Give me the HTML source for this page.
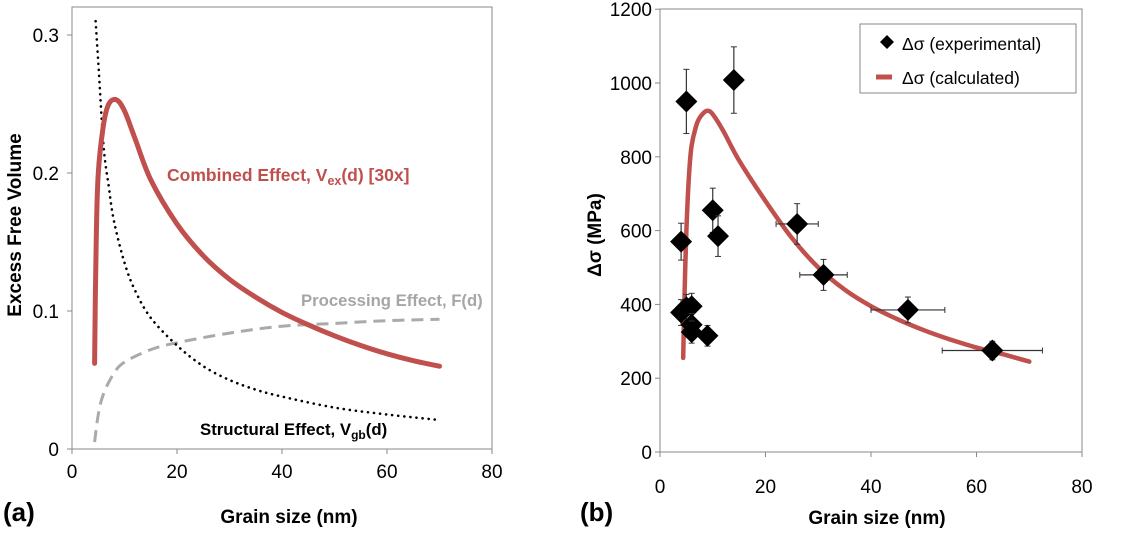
<!DOCTYPE html>
<html><head><meta charset="utf-8"><style>
body{margin:0;background:#fff;width:1129px;height:531px;overflow:hidden;font-family:"Liberation Sans",sans-serif}
svg text{font-family:"Liberation Sans",sans-serif}
</style></head><body>
<svg id="s" width="1129" height="531" xmlns="http://www.w3.org/2000/svg"></svg>
<script>
// Chart A data
const aTicksX=[0,20,40,60,80];
const aTicksY=[0,0.1,0.2,0.3];
const combX=[4.3,4.6,5,6,7,8.5,10,12,15,20,25,30,35,40,45,50,55,60,65,70];
const combY=[0.062,0.15,0.2,0.235,0.25,0.253,0.245,0.225,0.195,0.163,0.14,0.123,0.11,0.099,0.09,0.082,0.075,0.069,0.064,0.06];
const structX=[4.5,5,6,7,8,10,12,15,20,25,30,35,40,50,60,70];
const structY=[0.31,0.28,0.22,0.19,0.165,0.135,0.115,0.095,0.075,0.06,0.05,0.043,0.038,0.03,0.025,0.021];
const procX=[4.3,5,6,8,10,15,20,30,40,50,60,70];
const procY=[0.005,0.025,0.04,0.055,0.063,0.072,0.077,0.084,0.089,0.091,0.093,0.094];
// Chart B data
const bTicksX=[0,20,40,60,80];
const bTicksY=[0,200,400,600,800,1000,1200];
const expX=[5,14,4,10,11,26,31,47,63,4,5,6,6,6,9];
const expY=[950,1008,570,655,585,618,480,385,275,378,392,395,345,325,315];
const expYErr=[87,90,50,60,55,55,42,35,25,35,35,35,30,30,28];
const expXErr=[0,1.5,0,0,0,4,4.5,7,9.5,0,0,0,0,0,0];
const calcX=[4.4,4.6,5,5.5,6,7,8,9,10,12,15,20,25,30,35,40,45,50,55,60,65,70];
const calcY=[255,400,600,750,830,890,915,925,915,870,790,680,580,500,440,395,360,330,305,283,265,245];

const S=document.getElementById('s');const NS='http://www.w3.org/2000/svg';
function el(t,a,txt){const e=document.createElementNS(NS,t);for(const k in a)e.setAttribute(k,a[k]);if(txt!==undefined)e.textContent=txt;S.appendChild(e);return e;}
const ax=v=>72+v*5.25, ay=v=>449-v*1380;
const bx=v=>660+v*5.275, by=v=>452-v*0.369;

function frame(x0,x1,y0,y1,name){
  let r=el('rect',{x:x0,y:y0,width:x1-x0,height:y1-y0,fill:'none',stroke:'#888','stroke-width':1});
  
}
frame(72,492,7,449,'plot-area-a');
frame(660,1082,9,452,'plot-area-b');
aTicksX.forEach(v=>{el('line',{x1:ax(v),x2:ax(v),y1:449,y2:454,stroke:'#888'});
 const t=el('text',{x:ax(v),y:478,'text-anchor':'middle','font-size':19},v);});
aTicksY.forEach(v=>{el('line',{x1:67,x2:72,y1:ay(v),y2:ay(v),stroke:'#888'});
 const t=el('text',{x:59,y:ay(v)+7,'text-anchor':'end','font-size':19},String(v));});
bTicksX.forEach(v=>{el('line',{x1:bx(v),x2:bx(v),y1:452,y2:457,stroke:'#888'});
 const t=el('text',{x:bx(v),y:493,'text-anchor':'middle','font-size':19},v);});
bTicksY.forEach(v=>{el('line',{x1:655,x2:660,y1:by(v),y2:by(v),stroke:'#888'});
 const t=el('text',{x:652,y:by(v)+7,'text-anchor':'end','font-size':19},v);});

function path(xs,ys,fx,fy){
  const P=xs.map((x,i)=>[fx(x),fy(ys[i])]);
  let d='M'+P[0][0].toFixed(1)+','+P[0][1].toFixed(1);
  for(let i=0;i<P.length-1;i++){
    const p0=P[i-1]||P[i],p1=P[i],p2=P[i+1],p3=P[i+2]||P[i+1];
    const c1=[p1[0]+(p2[0]-p0[0])/6,p1[1]+(p2[1]-p0[1])/6];
    const c2=[p2[0]-(p3[0]-p1[0])/6,p2[1]-(p3[1]-p1[1])/6];
    d+='C'+c1.map(v=>v.toFixed(1)).join(',')+' '+c2.map(v=>v.toFixed(1)).join(',')+' '+p2.map(v=>v.toFixed(1)).join(',');
  }
  return d;
}
let p=el('path',{d:path(procX,procY,ax,ay),fill:'none',stroke:'#aaa','stroke-width':3,'stroke-dasharray':'12,7'});

p=el('path',{d:path(structX,structY,ax,ay),fill:'none',stroke:'#000','stroke-width':2.6,'stroke-dasharray':'0.1,6','stroke-linecap':'round'});

p=el('path',{d:path(combX,combY,ax,ay),fill:'none',stroke:'#c0504d','stroke-width':5,'stroke-linecap':'round','stroke-linejoin':'round'});


let t=el('text',{x:167,y:181,fill:'#c0504d','font-size':17.5,'font-weight':'bold'});t.innerHTML='Combined Effect, V<tspan font-size="12.5" dy="4">ex</tspan><tspan dy="-4">(d) [30x]</tspan>';

t=el('text',{x:301,y:306,fill:'#a6a6a6','font-size':16.7,'font-weight':'bold'},'Processing Effect, F(d)');

t=el('text',{x:200,y:435,fill:'#000','font-size':16.8,'font-weight':'bold'});t.innerHTML='Structural Effect, V<tspan font-size="12" dy="4">gb</tspan><tspan dy="-4">(d)</tspan>';

t=el('text',{x:0,y:0,transform:'translate(21,225) rotate(-90)','text-anchor':'middle','font-size':19,'font-weight':'bold'},'Excess Free Volume');

t=el('text',{x:289,y:523,'text-anchor':'middle','font-size':19,'font-weight':'bold'},'Grain size (nm)');

t=el('text',{x:3,y:521,'font-size':26,'font-weight':'bold'},'(a)');


// chart B
p=el('path',{d:path(calcX,calcY,bx,by),fill:'none',stroke:'#c0504d','stroke-width':4.5,'stroke-linecap':'round','stroke-linejoin':'round'});

expX.forEach((x,i)=>{
  const cx=bx(x),cy=by(expY[i]);
  const g=el('g',{});
  
  const e1=by(expY[i]+expYErr[i]),e2=by(expY[i]-expYErr[i]);
  g.innerHTML=`<line x1="${cx}" x2="${cx}" y1="${e1}" y2="${e2}" stroke="#333" stroke-width="1.2"/><line x1="${cx-3}" x2="${cx+3}" y1="${e1}" y2="${e1}" stroke="#333"/><line x1="${cx-3}" x2="${cx+3}" y1="${e2}" y2="${e2}" stroke="#333"/>`+
  (expXErr[i]?`<line x1="${bx(x-expXErr[i])}" x2="${bx(x+expXErr[i])}" y1="${cy}" y2="${cy}" stroke="#333" stroke-width="1.2"/><line x1="${bx(x-expXErr[i])}" x2="${bx(x-expXErr[i])}" y1="${cy-3}" y2="${cy+3}" stroke="#333"/><line x1="${bx(x+expXErr[i])}" x2="${bx(x+expXErr[i])}" y1="${cy-3}" y2="${cy+3}" stroke="#333"/>`:'')+
  `<polygon points="${cx},${cy-11} ${cx+11},${cy} ${cx},${cy+11} ${cx-11},${cy}" fill="#000"/>`;
  S.appendChild(g);
});
let lg=el('rect',{x:860,y:24,width:216,height:69,fill:'#fff',stroke:'#888'});

el('polygon',{points:'887,35 894,42 887,49 880,42',fill:'#000'});
t=el('text',{x:902,y:50,'font-size':17.5},'Δσ (experimental)');
el('line',{x1:876,x2:892,y1:77,y2:77,stroke:'#c0504d','stroke-width':5});
t=el('text',{x:902,y:84,'font-size':17.5},'Δσ (calculated)');
t=el('text',{x:0,y:0,transform:'translate(601,235) rotate(-90)','text-anchor':'middle','font-size':19,'font-weight':'bold'},'Δσ (MPa)');

t=el('text',{x:877,y:524,'text-anchor':'middle','font-size':19,'font-weight':'bold'},'Grain size (nm)');

t=el('text',{x:580,y:521,'font-size':26,'font-weight':'bold'},'(b)');

</script>
</body></html>
